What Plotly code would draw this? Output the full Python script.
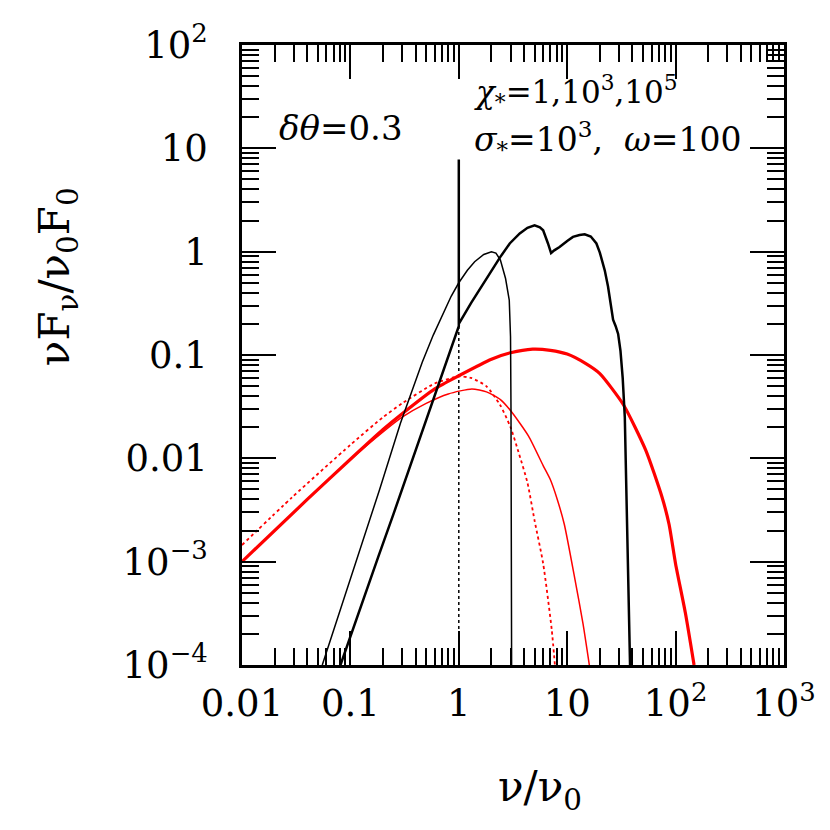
import plotly.graph_objects as go

# thin black curve
x_k1 = [0.055, 0.08, 0.12, 0.186, 0.29, 0.37, 0.46, 0.58, 0.7, 0.85, 1.0, 1.2, 1.4, 1.7, 2.0, 2.2, 2.42,
        2.7, 2.92, 3.0, 3.03, 3.05, 3.07]
y_k1 = [1e-4, 3.3e-4, 1.2e-3, 5e-3, 0.022, 0.046, 0.085, 0.155, 0.24, 0.37, 0.5, 0.66, 0.8, 0.94, 1.0,
        0.97, 0.83, 0.55, 0.34, 0.15, 0.03, 0.003, 1e-4]

# thick black curve (with the line at nu = nu0)
x_k2 = [0.081, 0.12, 0.18, 0.25, 0.35, 0.5, 0.7, 0.85, 1.0, 1.0, 1.0, 1.3, 1.7, 2.0, 2.4, 2.95, 3.65,
        4.3, 5.0, 5.6, 6.0, 6.65, 7.1, 7.6, 8.5, 10, 11.3, 13, 14.5, 16.5, 18.6, 20, 22.2, 23.8, 25,
        26.5, 28, 29.5, 31, 32.5, 34, 35.3, 36.5, 38]
y_k2 = [1e-4, 3.3e-4, 1.1e-3, 2.9e-3, 0.0081, 0.0236, 0.064, 0.116, 0.19, 7.8, 0.2, 0.32, 0.5, 0.65, 0.88,
        1.2, 1.5, 1.7, 1.8, 1.72, 1.61, 1.2, 0.97, 1.03, 1.11, 1.27, 1.39, 1.45, 1.47, 1.4, 1.2, 0.98, 0.66,
        0.46, 0.32, 0.22, 0.19, 0.16, 0.11, 0.06, 0.025, 0.004, 8e-4, 1e-4]

# dotted black line at nu = nu0
x_k3 = [1.0, 1.0]
y_k3 = [1e-4, 0.19]

# thick red curve
x_r1 = [0.01, 0.04, 0.1, 0.2, 0.3, 0.6, 1.0, 2.0, 3.0, 4.8, 7.0, 10, 15, 20, 33, 53, 75, 87, 100, 123, 148]
y_r1 = [1e-3, 0.004, 0.0098, 0.019, 0.027, 0.047, 0.063, 0.091, 0.105, 0.114, 0.111, 0.102, 0.082, 0.066,
        0.033, 0.012, 0.0042, 0.0023, 9.5e-4, 3.2e-4, 1e-4]

# thin red curve
x_r2 = [0.01, 0.04, 0.1, 0.2, 0.3, 0.5, 0.8, 1.32, 1.8, 2.42, 3.0, 4.4, 6.0, 7.0, 8.1, 9.4, 11.8, 14, 16]
y_r2 = [1e-3, 0.004, 0.0097, 0.018, 0.025, 0.034, 0.042, 0.047, 0.044, 0.037, 0.029, 0.0164, 0.0085, 0.0062,
        0.004, 0.0023, 6.7e-4, 2.5e-4, 1e-4]

# dotted red curve
x_r3 = [0.01, 0.029, 0.1, 0.2, 0.3, 0.6, 1.0, 1.3, 1.79, 2.4, 3.0, 3.6, 4.3, 5.0, 6.0, 7.2, 7.7]
y_r3 = [0.00145, 0.0042, 0.0135, 0.025, 0.034, 0.053, 0.062, 0.06, 0.05, 0.033, 0.02, 0.011, 0.0058, 0.0025,
        9.6e-4, 2.2e-4, 1e-4]

x_tickvals = [0.01, 0.1, 1, 10, 100, 1000]
x_ticktext = ["0.01", "0.1", "1", "10", "10<sup>2</sup>", "10<sup>3</sup>"]
y_tickvals = [1e-4, 1e-3, 0.01, 0.1, 1, 10, 100]
y_ticktext = ["10<sup>\u22124</sup>", "10<sup>\u22123</sup>", "0.01", "0.1", "1", "10", "10<sup>2</sup>"]

minor_x = [m * 10.0 ** e for e in range(-2, 3) for m in range(2, 10)]
minor_y = [m * 10.0 ** e for e in range(-4, 2) for m in range(2, 10)]

FONT = "DejaVu Serif"

fig = go.Figure()

fig.add_trace(go.Scatter(x=x_k3, y=y_k3, mode="lines",
                         line=dict(color="black", width=1.5, dash="dot")))
fig.add_trace(go.Scatter(x=x_r3, y=y_r3, mode="lines",
                         line=dict(color="#ff0000", width=1.8, dash="dot", shape="spline", smoothing=0.6)))
fig.add_trace(go.Scatter(x=x_r2, y=y_r2, mode="lines",
                         line=dict(color="#ff0000", width=1.5, shape="spline", smoothing=0.6)))
fig.add_trace(go.Scatter(x=x_r1, y=y_r1, mode="lines",
                         line=dict(color="#ff0000", width=3.2, shape="spline", smoothing=0.6)))
fig.add_trace(go.Scatter(x=x_k1, y=y_k1, mode="lines",
                         line=dict(color="black", width=1.5)))
fig.add_trace(go.Scatter(x=x_k2, y=y_k2, mode="lines",
                         line=dict(color="black", width=2.5)))

axis_common = dict(
    showline=True, linecolor="black", linewidth=2.5, mirror="allticks",
    ticks="inside", ticklen=34, tickwidth=2, tickcolor="black",
    showgrid=False, zeroline=False, automargin=False,
    tickfont=dict(family=FONT, size=37, color="black"),
)

# the page adds a small body margin, so the plot box is shifted back by it
fig.update_layout(
    width=830, height=830,
    plot_bgcolor="white", paper_bgcolor="white",
    showlegend=False,
    margin=dict(l=234, r=54, t=37, b=173),
    font=dict(family=FONT, color="black"),
    xaxis=dict(
        type="log", range=[-2, 3],
        tickmode="array", tickvals=x_tickvals, ticktext=x_ticktext,
        minor=dict(tickmode="array", tickvals=minor_x, ticks="inside", ticklen=17,
                   tickwidth=2, tickcolor="black", showgrid=False),
        ticklabelstandoff=4,
        **axis_common,
    ),
    yaxis=dict(
        type="log", range=[-4, 2],
        tickmode="array", tickvals=y_tickvals, ticktext=y_ticktext,
        minor=dict(tickmode="array", tickvals=minor_y, ticks="inside", ticklen=17,
                   tickwidth=2, tickcolor="black", showgrid=False),
        ticklabelstandoff=24,
        **axis_common,
    ),
    annotations=[
        dict(text="\u03bdF<sub>\u03bd</sub>/\u03bd<sub>0</sub>F<sub>0</sub>", textangle=-90,
             xref="paper", yref="paper", x=-0.339, y=0.626, xanchor="center", yanchor="middle",
             showarrow=False, font=dict(family=FONT, size=42, color="black")),
        dict(text="\u03bd/\u03bd<sub>0</sub>",
             xref="paper", yref="paper", x=0.549, y=-0.2016, xanchor="center", yanchor="middle",
             showarrow=False, font=dict(family=FONT, size=42, color="black")),
        dict(text="<i>\u03b4\u03b8</i>=0.3", xref="paper", yref="paper", x=0.065, y=0.866,
             xanchor="left", yanchor="middle", showarrow=False,
             font=dict(family=FONT, size=34, color="black")),
        dict(text="<i>\u03c7</i><sub>*</sub>=1,10<sup>3</sup>,10<sup>5</sup>", xref="paper", yref="paper",
             x=0.424, y=0.924, xanchor="left", yanchor="middle", showarrow=False,
             font=dict(family=FONT, size=31, color="black")),
        dict(text="<i>\u03c3</i><sub>*</sub>=10<sup>3</sup>,  <i>\u03c9</i>=100", xref="paper", yref="paper",
             x=0.424, y=0.848, xanchor="left", yanchor="middle", showarrow=False,
             font=dict(family=FONT, size=33, color="black")),
    ],
)

fig.write_html("out.html")
